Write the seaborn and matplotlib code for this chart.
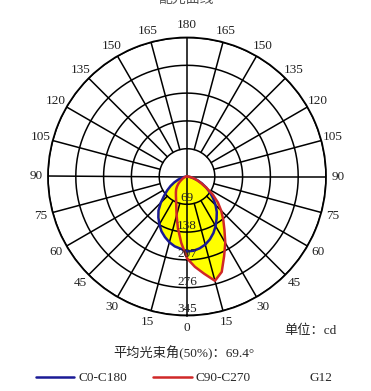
"""
配光曲线 (polar luminous intensity chart)
"""

import numpy as np
import matplotlib
matplotlib.use('Agg')
import matplotlib.pyplot as plt
import seaborn as sns
import pandas as pd

# Данные (углы в градусах, + вправо от 0 вниз), cd
angles = [-90, -85, -80, -75, -70, -65, -60, -55, -50, -45, -40, -35, -30, -25, -20, -15, -10, -5,
          0, 5, 10, 15, 20, 25, 30, 35, 40, 45, 50, 55, 60, 65, 70, 75, 80, 85, 90]
c0_c180 = [0, 3, 8, 15, 24, 35, 47, 60, 74, 92, 110, 124, 137, 150, 160, 169, 176, 180,
           186, 185, 181, 175, 166, 155, 142, 128, 115, 100, 85, 70, 55, 41, 28, 17, 9, 3, 0]
c90_c270 = [0, 2, 3, 5, 8, 11, 15, 21, 28, 35, 42, 48, 55, 64, 78, 100, 130, 165,
            203, 225, 245, 268, 252, 218, 190, 162, 140, 120, 100, 78, 55, 38, 26, 17, 10, 4, 0]

ring_values = [69, 138, 207, 276, 345]
angle_ticks = list(range(0, 360, 15))
angle_labels = [str(a if a <= 180 else 360 - a) for a in angle_ticks]

series_names = ['C0-C180', 'C90-C270']
series_colors = ['#1a1a96', '#d02828']

title_text = '配光曲线'
unit_text = '单位：cd'
beam_text = '平均光束角(50%)：69.4°'
lamp_text = 'G12'

sns.set_theme(style='white')
plt.rcParams['font.family'] = ['Liberation Serif', 'Noto Sans CJK SC']

fig = plt.figure(figsize=(3.71, 3.91), dpi=100)
ax = fig.add_axes([48 / 371, 1 - 315.5 / 391, 278 / 371, 278 / 391], projection='polar')
ax.set_theta_zero_location('S')
ax.set_ylim(0, ring_values[-1])
ax.set_xticks([])
ax.set_yticks([])
ax.grid(False)
ax.spines['polar'].set_color('black')
ax.spines['polar'].set_linewidth(1.3)
ax.patch.set_facecolor('white')

df = pd.DataFrame({'angle': np.deg2rad(angles), 'C0-C180': c0_c180, 'C90-C270': c90_c270})

# Заливка
for name in series_names:
    ax.fill(df['angle'], df[name], color='#ffff00', zorder=1, lw=0)

# Сетка: кольца
full = np.linspace(0, 2 * np.pi, 361)
for r in ring_values:
    ax.plot(full, np.full_like(full, r), color='black', lw=1.1, zorder=2)

# Сетка: лучи
for a in angle_ticks:
    r0 = 0 if a % 90 == 0 else ring_values[0]
    ax.plot([np.deg2rad(a)] * 2, [r0, ring_values[-1]], color='black', lw=1.1, zorder=2)

# Кривые
handles = []
for name, col in zip(series_names, series_colors):
    sns.lineplot(data=df, x='angle', y=name, sort=False, estimator=None, color=col, lw=1.8,
                 ax=ax, zorder=3)
    handles.append(ax.lines[-1])
ax.set_xlabel('')
ax.set_ylabel('')

# Подписи колец
for r in ring_values:
    ax.text(0, r, str(r), ha='center', va='bottom', fontsize=9.5, color='#222222', zorder=4)

# Подписи углов
for a, lab in zip(angle_ticks, angle_labels):
    ax.text(np.deg2rad(a), 375, lab, ha='center', va='center', fontsize=9.5, color='#222222')

fig.text(0.5, 1 - 3 / 391, title_text, ha='center', va='baseline', fontsize=10, color='#555555')
fig.text(310 / 371, 1 - 331 / 391, unit_text, ha='center', va='center', fontsize=9.5)
fig.text(184 / 371, 1 - 353 / 391, beam_text, ha='center', va='center', fontsize=9.5)
fig.text(321 / 371, 1 - 378 / 391, lamp_text, ha='center', va='center', fontsize=9.5)

fig.legend(handles, series_names, loc='center left', bbox_to_anchor=(36 / 371, 1 - 378 / 391),
           ncol=2, frameon=False, fontsize=9.5, handlelength=2.9, handletextpad=0.3,
           columnspacing=2.0, borderpad=0, borderaxespad=0)

fig.savefig('out.png', dpi=100)
